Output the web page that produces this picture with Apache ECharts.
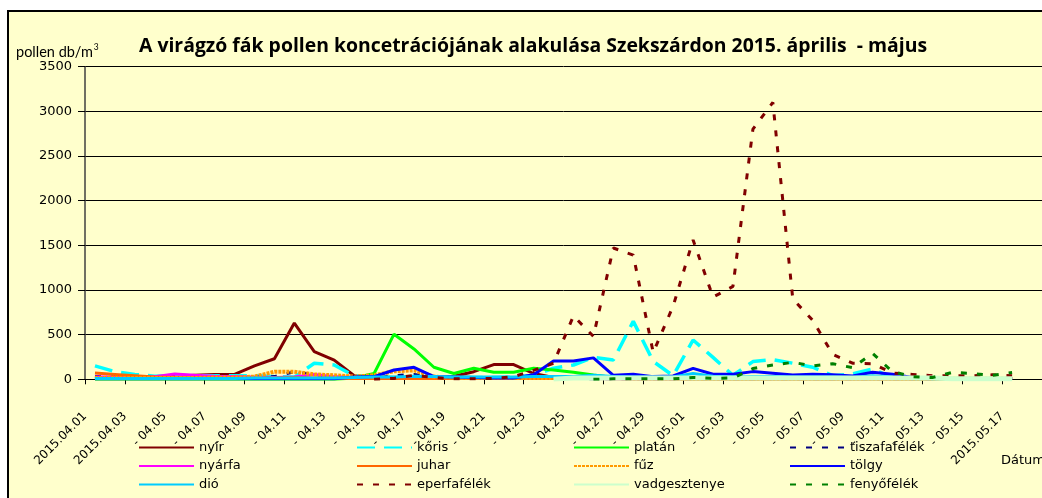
<!DOCTYPE html>
<html>
<head>
<meta charset="utf-8">
<script src="https://cdn.jsdelivr.net/npm/echarts@6.0.0/dist/echarts.min.js"></script>
<style>
  html, body { margin: 0; padding: 0; background: #fff; }
  #chart { width: 1042px; height: 498px; }
</style>
</head>
<body>
<div id="chart"></div>
<script>
// days 2015.04.01 .. 2015.05.17, one value per day
const days = ['04.01','04.02','04.03','04.04','04.05','04.06','04.07','04.08','04.09','04.10',
  '04.11','04.12','04.13','04.14','04.15','04.16','04.17','04.18','04.19','04.20',
  '04.21','04.22','04.23','04.24','04.25','04.26','04.27','04.28','04.29','04.30',
  '05.01','05.02','05.03','05.04','05.05','05.06','05.07','05.08','05.09','05.10',
  '05.11','05.12','05.13','05.14','05.15','05.16','05.17']

// tick labels, every second day
const tickLabels = ['2015.04.01','2015.04.03','- 04.05','- 04.07','- 04.09','- 04.11','- 04.13','- 04.15',
  '- 04.17','- 04.19','- 04.21','- 04.23','- 04.25','- 04.27','- 04.29','- 05.01','- 05.03',
  '- 05.05','- 05.07','- 05.09','- 05.11','- 05.13','- 05.15','2015.05.17']

const yTicks = [0, 3500, 500]

// null = no measurement shown
const nyir = [20,20,15,20,30,45,55,55,150,230, 630,310,215,40,25,20,20,15,35,85,
  165,165,65,20,15,10,8,5,5,5, 5,5,5,5,5,5,5,5,5,5, 5,5,5,5,5,5,5]
const koris = [150,85,55,35,45,40,40,40,40,30, 25,180,160,40,20,20,20,20,20,20,
  20,25,45,125,160,245,216,650,200,40, 440,245,45,198,220,180,135,40,60,115, 20,10,5,5,5,5,5]
const platan = [0,0,0,0,0,0,0,0,0,0, 0,0,0,15,65,505,340,135,65,123,
  78,78,123,104,78,48,20,15,10,10, 5,5,5,5,5,5,5,5,5,5, 5,5,5,5,5,5,5]
const tiszafa = [30,25,20,15,15,15,20,20,25,30, 85,50,20,10,10,40,55,20,10,10,
  10,10,10,10,10,5,5,5,5,5, 5,5,5,5,5,5,5,5,5,5, 5,5,5,5,5,5,5]
const nyarfa = [25,25,20,30,60,45,35,30,25,20, 25,55,30,20,15,10,10,10,10,10,
  10,10,10,10,10,8,5,5,5,5, 5,5,5,5,5,5,5,5,5,5, 5,5,5,5,5,5,5]
const juhar = [70,55,40,25,20,15,15,15,15,15, 20,15,10,10,10,10,10,10,10,10,
  10,10,10,10,10,10,5,5,5,5, 5,5,5,5,5,5,5,5,5,5, 5,5,5,5,5,5,5]
const fuz = [15,15,15,15,15,15,20,20,30,85, 85,55,45,30,45,90,100,30,20,15,
  15,15,15,15,20,30,15,10,10,10, 5,5,5,5,5,5,5,5,5,5, 5,5,5,5,5,5,5]
const tolgy = [5,5,5,5,5,5,5,5,5,5, 5,5,5,25,30,104,134,30,25,20,
  15,15,50,205,205,240,45,56,30,37, 123,56,56,86,67,48,56,50,37,78, 56,19,10,10,8,8,8]
const dio = [10,10,10,10,10,10,10,10,15,15, 15,15,15,20,25,25,35,30,25,25,
  25,25,30,30,30,45,30,25,25,25, 65,35,25,30,30,25,25,25,20,40, 20,10,5,5,5,5,5]
const eperfa = [null,null,null,null,null,null,null,null,null,null, null,null,null,null,0,10,45,20,5,5,
  10,30,100,180,710,480,1470,1390,300,820, 1560,920,1040,2800,3100,900,660,280,180,175, 70,55,40,40,40,50,40]
const vadgesztenye = [null,null,null,null,null,null,null,null,null,null, null,null,null,null,null,null,null,null,null,null,
  null,null,null,2,15,15,15,15,15,15, 15,15,15,15,15,15,15,15,15,15, 15,15,15,5,5,5,5]
const fenyo = [null,null,null,null,null,null,null,null,null,null, null,null,null,null,null,null,null,null,null,null,
  null,null,null,null,null,0,5,5,5,5, 20,10,15,120,160,190,150,175,130,290, 85,30,20,78,65,45,75]

// series in legend (row-major) order, later ones drawn on top
const seriesDefs = [
  { name: 'nyír', data: nyir, color: '#800000', width: 3, type: 'solid' },
  { name: 'kőris', data: koris, color: '#00FFFF', width: 3.5, type: [18, 9] },
  { name: 'platán', data: platan, color: '#00FF00', width: 3, type: 'solid' },
  { name: 'tiszafafélék', data: tiszafa, color: '#000080', width: 3, type: [6, 10] },
  { name: 'nyárfa', data: nyarfa, color: '#FF00FF', width: 3, type: 'solid' },
  { name: 'juhar', data: juhar, color: '#FF6600', width: 3, type: 'solid' },
  { name: 'fűz', data: fuz, color: '#FF9900', width: 4, type: [3, 1] },
  { name: 'tölgy', data: tolgy, color: '#0000FF', width: 3, type: 'solid' },
  { name: 'dió', data: dio, color: '#00CCFF', width: 3, type: 'solid' },
  { name: 'eperfafélék', data: eperfa, color: '#800000', width: 3, type: [6, 10] },
  { name: 'vadgesztenye', data: vadgesztenye, color: '#CCFFCC', width: 5, type: 'solid' },
  { name: 'fenyőfélék', data: fenyo, color: '#008000', width: 3, type: [6, 10] }
]

const legendCols = [
  ['nyír', 'nyárfa', 'dió'],
  ['kőris', 'juhar', 'eperfafélék'],
  ['platán', 'fűz', 'vadgesztenye'],
  ['tiszafafélék', 'tölgy', 'fenyőfélék']
]
const legendLeft = [138, 356, 573, 789]

const dayW = 20.535
const chart = echarts.init(document.getElementById('chart'))

const option = {
  backgroundColor: '#ffffff',
  animation: false,
  title: [
    {
      text: 'A virágzó fák pollen koncetrációjának alakulása Szekszárdon 2015. április  - május',
      left: 134, top: 32,
      textStyle: { fontFamily: 'Open Sans', fontWeight: 'bold', fontSize: 19.4, color: '#000' }
    },
    {
      text: '{a|pollen db/m}{s|3}',
      left: 11, top: 38,
      textStyle: {
        fontWeight: 'normal',
        rich: {
          a: { fontFamily: 'Lato', fontWeight: 'normal', fontSize: 14.5, color: '#000' },
          s: { fontFamily: 'Lato', fontWeight: 'normal', fontSize: 8.5, color: '#000', verticalAlign: 'top', padding: [0, 0, 9, 1] }
        }
      }
    }
  ],
  graphic: [
    {
      type: 'rect', z: -100, silent: true,
      shape: { x: 8, y: 11, width: 1100, height: 600 },
      style: { fill: '#FFFFCC', stroke: '#000', lineWidth: 2 }
    },
    {
      type: 'text', left: 1001, top: 454,
      style: { text: 'Dátum', font: '13px "DejaVu Sans"', fill: '#000' }
    }
  ],
  legend: legendCols.map((names, k) => ({
    data: names,
    orient: 'vertical',
    left: legendLeft[k], top: 441, height: 60,
    padding: 0,
    itemWidth: 55, itemHeight: 14, itemGap: 5.5,
    itemStyle: { opacity: 0 },
    textStyle: { fontFamily: 'DejaVu Sans', fontSize: 13, color: '#000' },
    selectedMode: false
  })),
  grid: { left: 85, top: 66.7, width: 48 * dayW, height: 312.6, containLabel: false },
  xAxis: {
    type: 'value', min: 0, max: 48, interval: 2,
    axisLine: { show: true, onZero: false, lineStyle: { color: '#000', width: 1 } },
    axisTick: { show: true, length: 5, lineStyle: { color: '#000' } },
    splitLine: { show: false },
    axisLabel: {
      rotate: 45, margin: 35,
      fontFamily: 'DejaVu Sans', fontSize: 12, color: '#000',
      showMaxLabel: false,
      formatter: v => tickLabels[v / 2] || ''
    }
  },
  yAxis: {
    type: 'value', min: yTicks[0], max: yTicks[1], interval: yTicks[2],
    axisLine: { show: true, lineStyle: { color: '#404040', width: 1.5 } },
    axisTick: { show: true, length: 7, lineStyle: { color: '#000' } },
    splitLine: { show: true, lineStyle: { color: '#000', width: 1 } },
    axisLabel: {
      margin: 13, fontFamily: 'DejaVu Sans', fontSize: 13, color: '#000',
      formatter: v => String(v)
    }
  },
  series: seriesDefs.map(s => ({
    name: s.name,
    type: 'line',
    data: s.data.map((v, i) => [i + 0.5, v]),
    symbol: 'none',
    showSymbol: false,
    color: s.color,
    lineStyle: { color: s.color, width: s.width, type: s.type },
    itemStyle: { color: s.color }
  }))
}

chart.setOption(option)
</script>
</body>
</html>
